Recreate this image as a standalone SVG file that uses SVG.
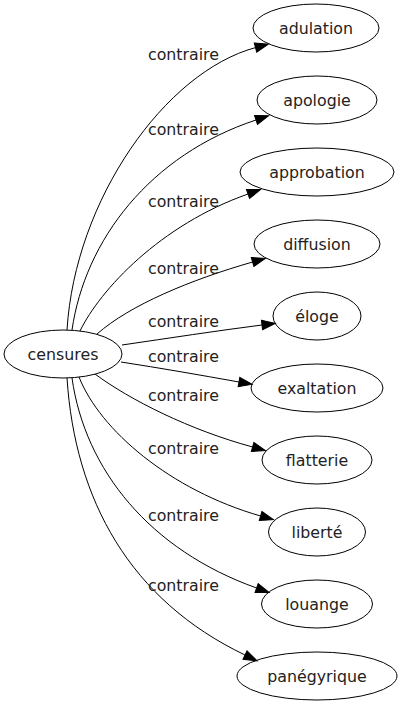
<svg xmlns="http://www.w3.org/2000/svg" width="402" height="707" viewBox="0 0 402 707">
<style>
  .node ellipse { fill: none; stroke: #000; stroke-width: 1; }
  .node text, .lbl { font-family: "DejaVu Sans", sans-serif; font-size: 15.8px; fill: #222; }
  .node text { text-anchor: middle; }
  .lbl { text-anchor: middle; }
  .edge { fill: none; stroke: #000; stroke-width: 1; marker-end: url(#arr); }
</style>
<defs>
  <marker id="arr" markerUnits="userSpaceOnUse" markerWidth="16" markerHeight="12" refX="0" refY="0" viewBox="0 -6 16 12" orient="auto" overflow="visible">
    <path d="M0,-4.7 L13.3,0 L0,4.7 z" fill="#000" stroke="#000" stroke-width="1"/>
  </marker>
</defs>
<rect width="402" height="707" fill="#fff"/>
<g id="connectors">
  <path class="edge" d="M67,330 C 75,200 165,72 255.5,47.6"/>
  <path class="edge" d="M72,330 C 85,240 150,155 256,120"/>
  <path class="edge" d="M80,331 C 100,290 160,225 248,194"/>
  <path class="edge" d="M97,334 C 130,305 190,280 252.6,262"/>
  <path class="edge" d="M122,345 C 170,338 215,331 262,325"/>
  <path class="edge" d="M121,362 C 160,368 200,375 239,382"/>
  <path class="edge" d="M95,374 C 130,400 190,430 252.6,447"/>
  <path class="edge" d="M79,377 C 100,430 170,490 260.6,516"/>
  <path class="edge" d="M72,378 C 85,470 150,550 256.6,588"/>
  <path class="edge" d="M67,378 C 75,500 130,600 245,655"/>
  <text class="lbl" x="183.5" y="59.5">contraire</text>
  <text class="lbl" x="183.5" y="134.5">contraire</text>
  <text class="lbl" x="183.5" y="207">contraire</text>
  <text class="lbl" x="183.5" y="274">contraire</text>
  <text class="lbl" x="183.5" y="327">contraire</text>
  <text class="lbl" x="183.5" y="362">contraire</text>
  <text class="lbl" x="183.5" y="400.5">contraire</text>
  <text class="lbl" x="183.5" y="454">contraire</text>
  <text class="lbl" x="183.5" y="521">contraire</text>
  <text class="lbl" x="183.5" y="591">contraire</text>
</g>
<g id="censures" class="node"><ellipse cx="63" cy="354" rx="59" ry="24"/><text x="63" y="359.5">censures</text></g>
<g id="adulation" class="node"><ellipse cx="316" cy="28" rx="63" ry="24"/><text x="316" y="33.5">adulation</text></g>
<g id="apologie" class="node"><ellipse cx="317" cy="100" rx="60" ry="24"/><text x="317" y="105.5">apologie</text></g>
<g id="approbation" class="node"><ellipse cx="317" cy="172" rx="77" ry="24"/><text x="317" y="177.5">approbation</text></g>
<g id="diffusion" class="node"><ellipse cx="317" cy="244" rx="63" ry="24"/><text x="317" y="249.5">diffusion</text></g>
<g id="eloge" class="node"><ellipse cx="317" cy="316" rx="44" ry="24"/><text x="317" y="321.5">éloge</text></g>
<g id="exaltation" class="node"><ellipse cx="317" cy="388" rx="66" ry="24"/><text x="317" y="393.5">exaltation</text></g>
<g id="flatterie" class="node"><ellipse cx="317" cy="460" rx="55" ry="24"/><text x="317" y="465.5">flatterie</text></g>
<g id="liberte" class="node"><ellipse cx="317" cy="532" rx="48.5" ry="24"/><text x="317" y="537.5">liberté</text></g>
<g id="louange" class="node"><ellipse cx="317" cy="604" rx="55.5" ry="24"/><text x="317" y="609.5">louange</text></g>
<g id="panegyrique" class="node"><ellipse cx="317" cy="676" rx="80" ry="24"/><text x="317" y="681.5">panégyrique</text></g>
</svg>
